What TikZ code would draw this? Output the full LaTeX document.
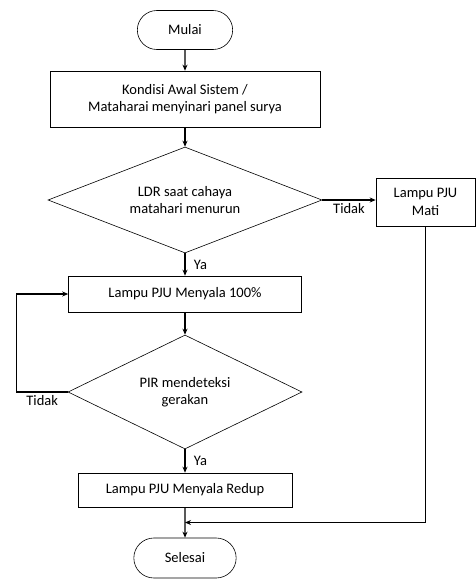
\documentclass[tikz,border=0pt]{standalone}
\usepackage{fontspec}
\setmainfont{Carlito}
\usetikzlibrary{arrows.meta,positioning,shapes.geometric,shapes.misc,calc}

\tikzset{
  term/.style={draw,rounded rectangle,minimum width=102pt,minimum height=39pt},
  box/.style={draw,rectangle,align=center,inner sep=2pt},
  cond/.style={draw,diamond,align=center,inner sep=0pt},
  arr/.style={-{Stealth[length=6pt,width=5pt]},line width=1.1pt},
  lbl/.style={font=\fontsize{14.5}{17.5}\selectfont}
}

\begin{document}
\begin{tikzpicture}[x=1pt,y=-1pt,font=\fontsize{14.5}{17.5}\selectfont,line width=0.6pt]
  \useasboundingbox[fill=white] (0,0) rectangle (476,579);
  % terminators and steps
  \node[term] (mulai) at (185,30) {Mulai};
  \node[box,minimum width=270pt,minimum height=56pt] (kondisi) at (185,99)
    {Kondisi Awal Sistem /\\ Mataharai menyinari panel surya};
  \node[cond,aspect=2.58,minimum width=274pt,minimum height=106pt] (ldr) at (185,200)
    {LDR saat cahaya\\ matahari menurun};
  \node[box,minimum width=99pt,minimum height=48pt] (mati) at (425.5,202)
    {Lampu PJU\\ Mati};
  \node[box,minimum width=233pt,minimum height=36pt] (nyala) at (185,294)
    {Lampu PJU Menyala 100\%};
  \node[cond,aspect=2.05,minimum width=234pt,minimum height=114pt] (pir) at (185,392)
    {PIR mendeteksi\\ gerakan};
  \node[box,minimum width=214pt,minimum height=34pt] (redup) at (185,490)
    {Lampu PJU Menyala Redup};
  \node[term,minimum width=109pt,minimum height=40pt] (selesai) at (185,558) {Selesai};
  \coordinate (join) at ($(redup.south)!0.5!(selesai.north)$);

  % connectors
  \draw[arr] (mulai) -- (kondisi);
  \draw[arr] (kondisi) -- (ldr);
  \draw[arr] (ldr.east) -- node[lbl,below]{Tidak} (ldr.east -| mati.west);
  \draw[arr] (ldr) -- node[lbl,right,xshift=5pt]{Ya} (nyala);
  \draw[arr] (nyala) -- (pir);
  \draw[arr] (pir.west) -- node[lbl,below]{Tidak} ++(-51,0) |- (nyala.west);
  \draw[arr] (pir) -- node[lbl,right,xshift=5pt]{Ya} (redup);
  \draw[arr] (redup) -- (selesai);
  \draw[arr] (mati.south) |- (join);
\end{tikzpicture}
\end{document}
